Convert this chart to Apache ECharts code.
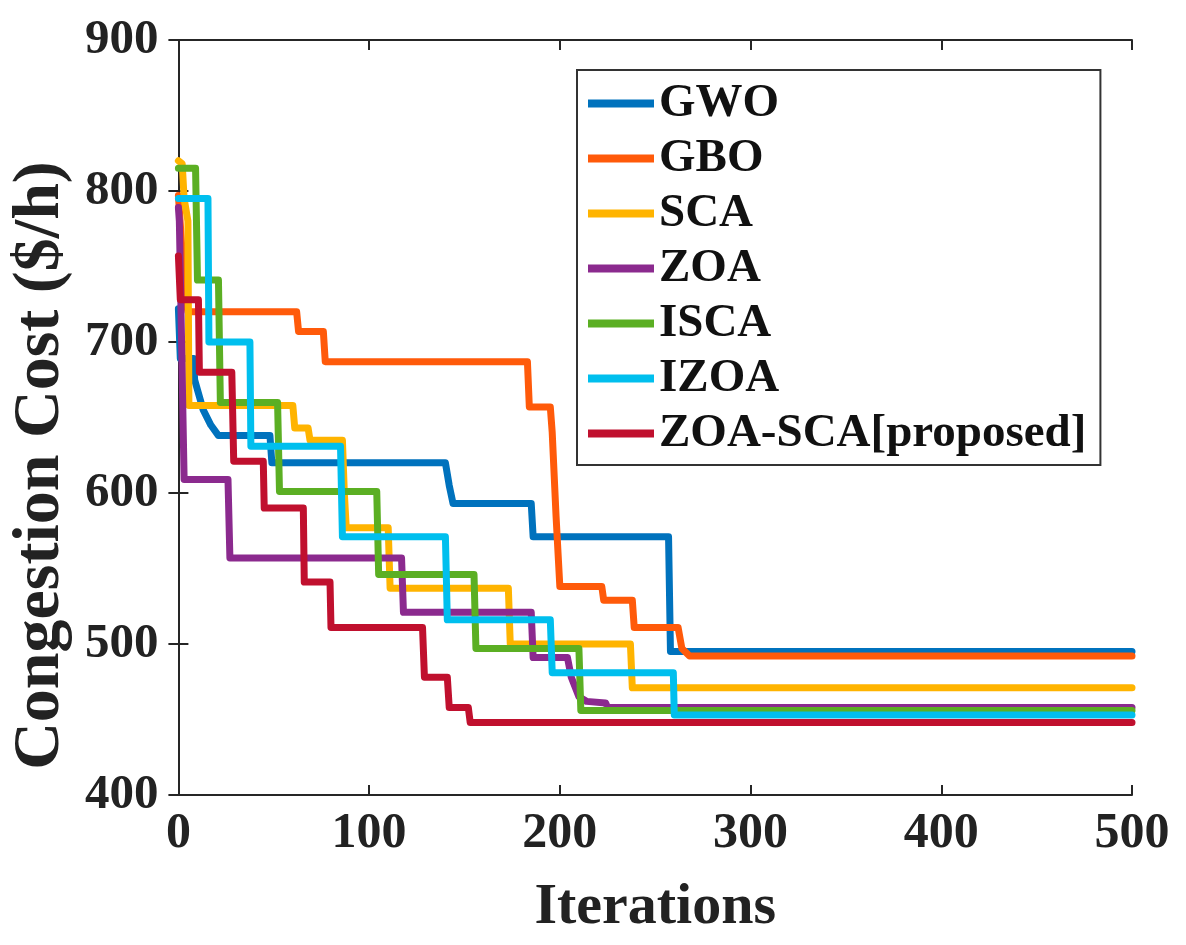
<!DOCTYPE html>
<html>
<head>
<meta charset="utf-8">
<script src="https://cdn.jsdelivr.net/npm/echarts@6/dist/echarts.min.js"></script>
<style>
html,body{margin:0;padding:0;background:#fff;}
#chart{width:1186px;height:945px;}
</style>
</head>
<body>
<div id="chart"></div>
<script>
const seriesNames = ['GWO','GBO','SCA','ZOA','ISCA','IZOA','ZOA-SCA[proposed]'];
const xTicks = [0,100,200,300,400,500];
const yTicks = [400,500,600,700,800,900];

const GWO = [[0,722],[1,689],[8,689],[8.5,675],[13,655],[17,645],[21,638],[48,638],[49,620],[140,620],[142,605],[144,593],[185,593],[186,571],[257,571],[258,495],[500,495]];
const GBO = [[0,797],[1,778],[2,758],[3,740],[4,727],[5,720],[62,720],[63,707],[76,707],[77,687],[183,687],[184,657],[195,657],[196,640],[198,585],[200,538],[222,538],[223,529],[238,529],[239,511],[262,511],[264,497],[268,492],[500,492]];
const SCA = [[0,820],[2,818],[3,795],[5,780],[5.5,658],[60,658],[61,643],[68,643],[69,635],[86,635],[87,600],[88,577],[110,577],[111,537],[173,537],[174,500],[237,500],[238,471],[500,471]];
const ZOA = [[0,789],[0.5,780],[3,609],[26,609],[27,557],[117,557],[118,521],[185,521],[186,491],[204,491],[206,478],[210,465],[214,462],[224,461],[225,458],[500,458]];
const ISCA = [[0,815],[9,815],[10,741],[21,741],[22,660],[52,660],[53,601],[104,601],[105,546],[155,546],[156,497],[210,497],[211,456],[500,456]];
const IZOA = [[0,795],[15.5,795],[16,700],[37.5,700],[38,631],[85,631],[86,571],[140,571],[141,516],[195,516],[196,481],[259.5,481],[260,453],[500,453]];
const ZOASCA = [[0,757],[1,728],[10.5,728],[11,680],[28,680],[29,621],[44.5,621],[45,590],[65.5,590],[66,541],[79.5,541],[80,511],[128,511],[129,478],[141,478],[142,458],[152,458],[153,448],[500,448]];

const seriesData = [GWO, GBO, SCA, ZOA, ISCA, IZOA, ZOASCA];
const colors = ['#0072BD','#FF5A0A','#FFB400','#8B2A8E','#5BAF23','#00BFEE','#C0102E'];

const FONT = '"Liberation Serif", "Times New Roman", serif';
const TXT = '#222222';
const AX = '#262626';

const chart = echarts.init(document.getElementById('chart'), null, {renderer:'canvas'});

const baseAxisLine = {show:true, lineStyle:{color:AX, width:2}};
const tickIn = {show:true, inside:true, length:10, lineStyle:{color:AX, width:2}};

chart.setOption({
  backgroundColor:'#ffffff',
  animation:false,
  color: colors,
  grid:{left:178, right:54, top:40, bottom:150, containLabel:false},
  legend:{
    orient:'vertical',
    left:577, top:70,
    data: seriesNames,
    icon:'rect',
    itemWidth:66, itemHeight:8,
    itemGap:8,
    padding:[10,14,8,11],
    borderColor:'#333', borderWidth:2,
    backgroundColor:'#ffffff',
    textStyle:{fontFamily:FONT, fontWeight:'bold', fontSize:47, lineHeight:47, color:'#111'}
  },
  xAxis:[{
    type:'value', min:0, max:500, interval:100, position:'bottom',
    name:'Iterations', nameLocation:'middle', nameGap:84,
    nameTextStyle:{fontFamily:FONT, fontWeight:'bold', fontSize:58, color:TXT},
    axisLine:baseAxisLine, axisTick:tickIn,
    axisLabel:{fontFamily:FONT, fontWeight:'bold', fontSize:50, color:TXT, margin:14,
      formatter:function(v){return xTicks.indexOf(v)>=0 ? String(v) : '';}},
    splitLine:{show:false}
  },{
    type:'value', min:0, max:500, interval:100, position:'top',
    axisLine:baseAxisLine, axisTick:tickIn, axisLabel:{show:false}, splitLine:{show:false}
  }],
  yAxis:[{
    type:'value', min:400, max:900, interval:100, position:'left',
    name:'Congestion Cost ($/h)', nameLocation:'middle', nameGap:94,
    nameTextStyle:{fontFamily:FONT, fontWeight:'bold', fontSize:66, color:TXT, padding:[0,96,0,0]},
    axisLine:baseAxisLine, axisTick:tickIn,
    axisLabel:{fontFamily:FONT, fontWeight:'bold', fontSize:49, color:TXT, margin:20,
      formatter:function(v){return yTicks.indexOf(v)>=0 ? String(v) : '';}},
    splitLine:{show:false}
  },{
    type:'value', min:400, max:900, interval:100, position:'right',
    axisLine:baseAxisLine, axisTick:tickIn, axisLabel:{show:false}, splitLine:{show:false}
  }],
  series: seriesNames.map(function(n,i){
    return {
      name:n, type:'line', data:seriesData[i], showSymbol:false, symbol:'none',
      lineStyle:{width:7, color:colors[i], join:'round', cap:'round'},
      itemStyle:{color:colors[i]},
      z:2+i
    };
  })
});
</script>
</body>
</html>
